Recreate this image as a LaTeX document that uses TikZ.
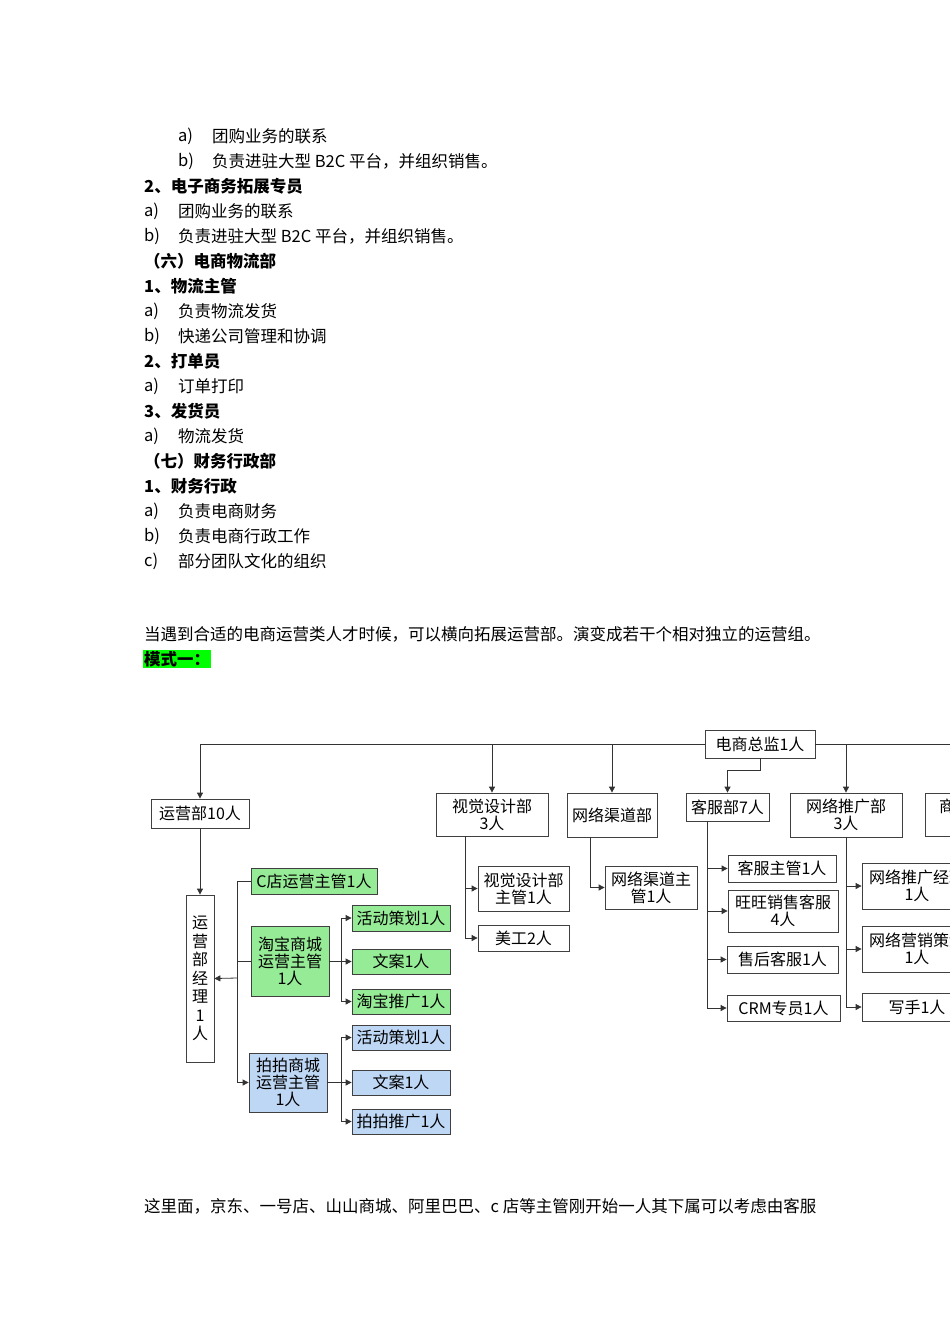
\documentclass[tikz,border=0pt]{standalone}
\usepackage{fontspec}
\setmainfont{Noto Sans CJK SC}
\usetikzlibrary{arrows.meta}
\begin{document}
\begin{tikzpicture}[x=1pt,y=-1pt,
  box/.style={draw=black!75,line width=0.8pt,inner sep=0pt,align=center,font=\fontsize{16}{17}\selectfont},
  grn/.style={box,fill=LightGreen},
  blu/.style={box,fill=LightBlue},
  ln/.style={draw=black!80,line width=0.8pt},
  arr/.style={ln,-{Triangle[length=6pt,width=6pt]}},
  txt/.style={anchor=west,inner sep=0pt,font=\fontsize{16.5}{18}\selectfont},
  btxt/.style={txt,font=\fontsize{16.5}{18}\selectfont\bfseries}]
\definecolor{LightGreen}{RGB}{150,235,150}
\definecolor{LightBlue}{RGB}{190,215,245}
\useasboundingbox (0,0) rectangle (950,1344);
\fill[white] (0,0) rectangle (950,1344);
% text
\node[txt] (l1a) at (178,136) {a)}; \node[txt] (l1b) at (212,136) {团购业务的联系};
\node[txt] (l2a) at (178,161) {b)}; \node[txt] (l2b) at (212,161) {负责进驻大型 B2C 平台，并组织销售。};
\node[btxt] (l3) at (144,186) {2、电子商务拓展专员};
\node[txt] (l4a) at (144,211) {a)}; \node[txt] (l4b) at (178,211) {团购业务的联系};
\node[txt] (l5a) at (144,236) {b)}; \node[txt] (l5b) at (178,236) {负责进驻大型 B2C 平台，并组织销售。};
\node[btxt] (l6) at (144,261) {（六）电商物流部};
\node[btxt] (l7) at (144,286) {1、物流主管};
\node[txt] (l8a) at (144,311) {a)}; \node[txt] (l8b) at (178,311) {负责物流发货};
\node[txt] (l9a) at (144,336) {b)}; \node[txt] (l9b) at (178,336) {快递公司管理和协调};
\node[btxt] (l10) at (144,361) {2、打单员};
\node[txt] (l11a) at (144,386) {a)}; \node[txt] (l11b) at (178,386) {订单打印};
\node[btxt] (l12) at (144,411) {3、发货员};
\node[txt] (l13a) at (144,436) {a)}; \node[txt] (l13b) at (178,436) {物流发货};
\node[btxt] (l14) at (144,461) {（七）财务行政部};
\node[btxt] (l15) at (144,486) {1、财务行政};
\node[txt] (l16a) at (144,511) {a)}; \node[txt] (l16b) at (178,511) {负责电商财务};
\node[txt] (l17a) at (144,536) {b)}; \node[txt] (l17b) at (178,536) {负责电商行政工作};
\node[txt] (l18a) at (144,561) {c)}; \node[txt] (l18b) at (178,561) {部分团队文化的组织};
\node[txt] (p1) at (144,634) {当遇到合适的电商运营类人才时候，可以横向拓展运营部。演变成若干个相对独立的运营组。};
\node[btxt,fill=green,inner sep=1pt] (p2) at (143,659) {模式一：};
\node[txt] (p3) at (144,1206) {这里面，京东、一号店、山山商城、阿里巴巴、c 店等主管刚开始一人其下属可以考虑由客服};
% boxes
\node[box,minimum width=110,minimum height=28] (zj) at (760,744) {电商总监1人};
\node[box,minimum width=98,minimum height=29] (yy) at (200,813.5) {运营部10人};
\node[box,minimum width=112,minimum height=43] (sj) at (492,814.5) {视觉设计部\\3人};
\node[box,minimum width=90,minimum height=44] (qd) at (612,815) {网络渠道部};
\node[box,minimum width=83,minimum height=28] (kf) at (727.5,807) {客服部7人};
\node[box,minimum width=112,minimum height=44] (tg) at (846,815) {网络推广部\\3人};
\node[box,minimum width=80,minimum height=43] (sp) at (965,814.5) {};
\node[anchor=north west,inner sep=0pt,font=\fontsize{16}{17}\selectfont] (spt) at (939,799) {商品部};
\node[box,minimum width=28,minimum height=167,font=\fontsize{16}{18.5}\selectfont] (jl) at (200,978.5) {运\\营\\部\\经\\理\\1\\人};
\node[grn,minimum width=126,minimum height=26] (cd) at (314,881) {C店运营主管1人};
\node[grn,minimum width=78,minimum height=70] (tb) at (290,961) {淘宝商城\\运营主管\\1人};
\node[blu,minimum width=78,minimum height=59] (pp) at (288,1082.5) {拍拍商城\\运营主管\\1人};
\node[grn,minimum width=98,minimum height=26] (g1) at (401,918) {活动策划1人};
\node[grn,minimum width=98,minimum height=25] (g2) at (401,961.5) {文案1人};
\node[grn,minimum width=98,minimum height=25] (g3) at (401,1001.5) {淘宝推广1人};
\node[blu,minimum width=98,minimum height=25] (b1) at (401,1037.5) {活动策划1人};
\node[blu,minimum width=98,minimum height=25] (b2) at (401,1082.5) {文案1人};
\node[blu,minimum width=98,minimum height=25] (b3) at (401,1121.5) {拍拍推广1人};
\node[box,minimum width=91,minimum height=45] (sj1) at (523.5,888.5) {视觉设计部\\主管1人};
\node[box,minimum width=91,minimum height=26] (sj2) at (523.5,938) {美工2人};
\node[box,minimum width=92,minimum height=43] (qd1) at (651,887.5) {网络渠道主\\管1人};
\node[box,minimum width=108,minimum height=27] (k1) at (782,868.5) {客服主管1人};
\node[box,minimum width=110,minimum height=42] (k2) at (783,911) {旺旺销售客服\\4人};
\node[box,minimum width=111,minimum height=27] (k3) at (782.5,959.5) {售后客服1人};
\node[box,minimum width=113,minimum height=26] (k4) at (783.5,1008) {CRM专员1人};
\node[box,minimum width=110,minimum height=46] (t1) at (917,886) {网络推广经理\\1人};
\node[box,minimum width=110,minimum height=46] (t2) at (917,949) {网络营销策划\\1人};
\node[box,minimum width=110,minimum height=28] (t3) at (917,1007) {写手1人};
% top connectors
\draw[arr] (zj.west) -| (yy.north);
\draw[ln] (zj.east) -- ++(250,0);
\draw[arr] (sj.north |- zj.west) -- (sj.north);
\draw[arr] (qd.north |- zj.west) -- (qd.north);
\draw[arr] (tg.north |- zj.east) -- (tg.north);
\draw[arr] (zj.south) -- ++(0,12) -| (kf.north);
% operations
\draw[arr] (yy.south) -- (jl.north);
\coordinate (bt) at (237,881);
\coordinate (bb) at (237,1082.5);
\coordinate (bm) at (237,978);
\draw[ln] (cd.west) -- (bt) -- (bb);
\draw[ln] (tb.west) -- (tb.west -| bt);
\draw[arr] (bm) -- (jl.east);
\draw[arr] (bb) -- (pp.west);
\coordinate (gb) at (341,961);
\draw[ln] (tb.east) -- (gb);
\draw[ln] (g1.west -| gb) -- (g3.west -| gb);
\foreach \n in {g1,g2,g3} \draw[arr] (\n.west -| gb) -- (\n.west);
\coordinate (bbus) at (341,1082.5);
\draw[ln] (pp.east) -- (bbus);
\draw[ln] (b1.west -| bbus) -- (b3.west -| bbus);
\foreach \n in {b1,b2,b3} \draw[arr] (\n.west -| bbus) -- (\n.west);
% visual
\coordinate (sv) at (465,836);
\draw[ln] (sv) -- (sj2.west -| sv);
\draw[arr] (sj1.west -| sv) -- (sj1.west);
\draw[arr] (sj2.west -| sv) -- (sj2.west);
% channel
\draw[arr] (590,837) |- (qd1.west);
% service
\coordinate (kv) at (707,821);
\draw[ln] (kv) -- (k4.west -| kv);
\foreach \n in {k1,k2,k3,k4} \draw[arr] (\n.west -| kv) -- (\n.west);
% promotion
\coordinate (tv) at (846,837);
\draw[ln] (tv) -- (t3.west -| tv);
\foreach \n in {t1,t2,t3} \draw[arr] (\n.west -| tv) -- (\n.west);
\end{tikzpicture}
\end{document}
